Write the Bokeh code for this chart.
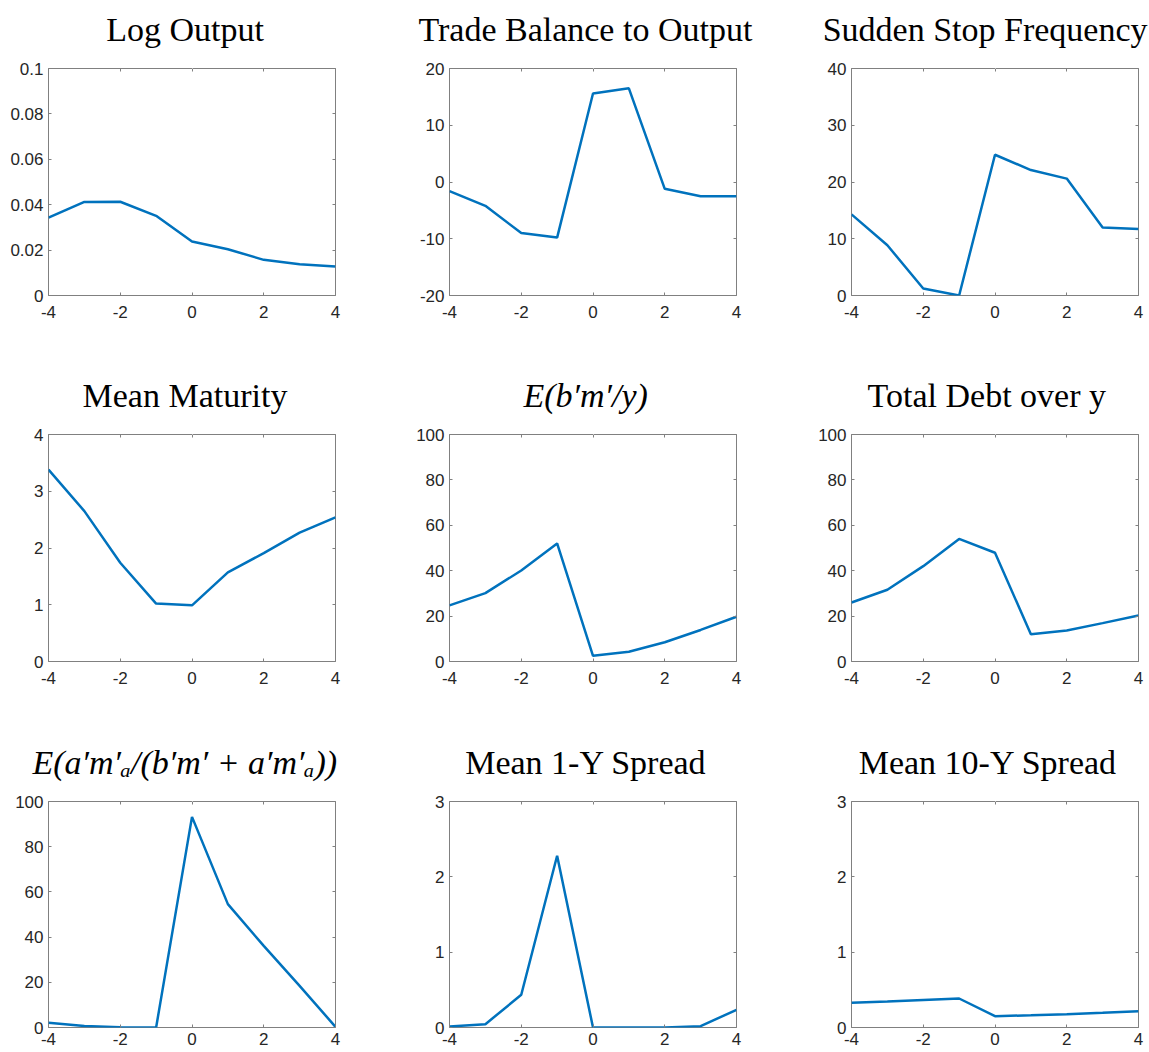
from bokeh.plotting import figure
from bokeh.layouts import gridplot
from bokeh.models import FixedTicker, LinearAxis, CustomJSTickFormatter
from bokeh.embed import file_html
from bokeh.resources import INLINE

periods = [-4, -3, -2, -1, 0, 1, 2, 3, 4]

log_output = [0.0343, 0.0412, 0.0413, 0.0351, 0.0238, 0.0204, 0.0157, 0.0138, 0.0128]
trade_balance = [-1.6, -4.2, -9.0, -9.8, 15.6, 16.5, -1.2, -2.5, -2.5]
sudden_stop = [14.3, 8.85, 1.24, 0.0, 24.8, 22.1, 20.6, 12.0, 11.7]
mean_maturity = [3.38, 2.65, 1.74, 1.02, 0.99, 1.57, 1.91, 2.27, 2.54]
short_debt = [24.7, 30.1, 40.1, 52.0, 2.5, 4.3, 8.5, 13.9, 19.7]
total_debt = [26.0, 31.6, 42.0, 54.0, 47.9, 12.0, 13.7, 16.9, 20.3]
asset_share = [2.1, 0.7, 0.1, 0.0, 93.2, 54.6, 36.1, 18.4, 0.3]
spread_1y = [0.013, 0.044, 0.434, 2.28, 0.0, 0.0, 0.0, 0.018, 0.235]
spread_10y = [0.327, 0.345, 0.365, 0.385, 0.150, 0.162, 0.177, 0.195, 0.217]

titles = [
    "Log Output", "Trade Balance to Output", "Sudden Stop Frequency",
    "Mean Maturity", "E(b\u2032m\u2032/y)", "Total Debt over y",
    "E(a\u2032m\u2032\u2090/(b\u2032m\u2032 + a\u2032m\u2032\u2090))", "Mean 1-Y Spread", "Mean 10-Y Spread",
]
italic_titles = [False, False, False, False, True, False, True, False, False]
series = [log_output, trade_balance, sudden_stop, mean_maturity, short_debt,
          total_debt, asset_share, spread_1y, spread_10y]
y_ranges = [(0, 0.1), (-20, 20), (0, 40), (0, 4), (0, 100), (0, 100), (0, 100), (0, 3), (0, 3)]
y_ticks = [
    [0, 0.02, 0.04, 0.06, 0.08, 0.1],
    [-20, -10, 0, 10, 20],
    [0, 10, 20, 30, 40],
    [0, 1, 2, 3, 4],
    [0, 20, 40, 60, 80, 100],
    [0, 20, 40, 60, 80, 100],
    [0, 20, 40, 60, 80, 100],
    [0, 1, 2, 3],
    [0, 1, 2, 3],
]
x_ticks = [-4, -2, 0, 2, 4]

BOX = "#808080"
TXT = "#262626"
LINE = "#0072BD"
TITLE_PX = 34

fmt_code = "return Number(tick.toFixed(6)).toString();"

col_widths = [409, 401, 339]
col_left = [48, 40, 41]
row_heights = [369, 367, 316]
row_top = [68, 65, 65]
frame_h = [227, 227, 226]
FW = 287
TITLE_SPACE = 21
TITLE_SHIFT = -7   # titles sit slightly left of the box centre

# advance widths (1/1000 em) of the serif title face, to place titles
ADV = {" ": 250, "-": 333, "0": 500, "1": 500, "A": 722, "B": 667, "D": 722,
       "E": 611, "F": 556, "L": 611, "M": 889, "O": 722, "S": 556, "T": 611,
       "Y": 722, "a": 444, "b": 500, "c": 444, "d": 500, "e": 444, "g": 500,
       "i": 278, "l": 278, "n": 500, "o": 500, "p": 500, "q": 500, "r": 333,
       "s": 389, "t": 278, "u": 500, "v": 500, "y": 500}
# rendered widths (px) of the italic formula titles
ITALIC_WIDTH = {4: 125, 6: 305}


def text_width(i):
    if i in ITALIC_WIDTH:
        return ITALIC_WIDTH[i]
    return sum(ADV.get(ch, 500) for ch in titles[i]) * TITLE_PX / 1000.0


def frame_ticks(ax):
    ax.axis_line_color = None
    ax.major_tick_in = 3
    ax.major_tick_out = 0
    ax.minor_tick_in = 0
    ax.minor_tick_out = 0
    ax.minor_tick_line_color = None
    ax.major_tick_line_color = BOX
    ax.major_label_text_font_size = "0px"
    ax.major_label_text_color = None
    ax.major_label_standoff = 0


figs = []
for i in range(9):
    row, col = divmod(i, 3)
    w = col_widths[col]
    h = row_heights[row]
    bl = col_left[col]
    bt = row_top[row]
    fh = frame_h[row]
    p = figure(width=w, height=h, output_backend="svg", toolbar_location=None,
               x_range=(-4, 4), y_range=y_ranges[i],
               min_border_left=bl, min_border_right=w - bl - FW,
               min_border_top=bt, min_border_bottom=h - bt - fh)
    p.title.text = titles[i]
    p.title.text_font = "Liberation Serif"
    p.title.text_font_size = f"{TITLE_PX}px"
    p.title.text_font_style = "italic" if italic_titles[i] else "normal"
    p.title.text_color = "#000000"
    p.title.standoff = 0
    left = FW / 2 + TITLE_SHIFT - text_width(i) / 2
    if col == 2:
        left = min(left, w - bl - 2 - text_width(i))
    p.title.align = "left"
    p.title.offset = left
    p.xgrid.visible = False
    p.ygrid.visible = False
    p.outline_line_color = BOX
    p.outline_line_width = 1
    p.background_fill_color = "white"
    p.border_fill_color = "white"

    for ax in (p.xaxis[0], p.yaxis[0]):
        ax.axis_line_color = None
        ax.major_tick_in = 3
        ax.major_tick_out = 0
        ax.minor_tick_line_color = None
        ax.major_tick_line_color = BOX
        ax.major_label_text_font = "Liberation Sans"
        ax.major_label_text_font_size = "17px"
        ax.major_label_text_color = TXT
        ax.formatter = CustomJSTickFormatter(code=fmt_code)
    p.xaxis[0].ticker = FixedTicker(ticks=x_ticks)
    p.yaxis[0].ticker = FixedTicker(ticks=y_ticks[i])
    p.xaxis[0].major_label_standoff = 10 if row < 2 else 5
    p.yaxis[0].major_label_standoff = 5

    # inward ticks on the top and right edges of the box
    top = LinearAxis(ticker=FixedTicker(ticks=x_ticks))
    right = LinearAxis(ticker=FixedTicker(ticks=y_ticks[i]))
    frame_ticks(top)
    frame_ticks(right)
    p.add_layout(top, "above")
    p.add_layout(right, "right")

    # blank band between box and title (white outward tick only reserves space)
    spacer = LinearAxis(ticker=FixedTicker(ticks=[0]))
    frame_ticks(spacer)
    spacer.major_tick_in = 0
    spacer.major_tick_out = TITLE_SPACE
    spacer.major_tick_line_color = "white"
    p.add_layout(spacer, "above")

    p.line(periods, series[i], line_color=LINE, line_width=2.5)
    figs.append(p)

grid = gridplot([figs[0:3], figs[3:6], figs[6:9]], toolbar_location=None)

open("out.html", "w").write(file_html(grid, INLINE))
